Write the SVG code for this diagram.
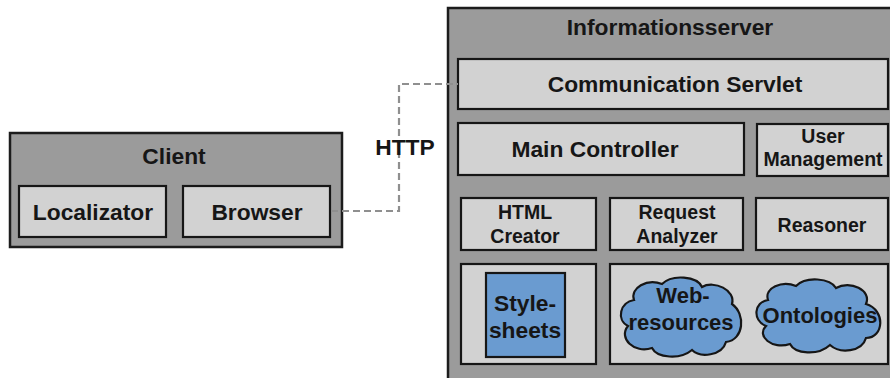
<svg xmlns="http://www.w3.org/2000/svg" width="890" height="378" viewBox="0 0 890 378">
  <style>
    .outer { fill: #9b9b9b; stroke: #1c1c1c; stroke-width: 2.5; }
    .box { fill: #d2d2d2; stroke: #161616; stroke-width: 2.2; }
    .blue { fill: #6a9bd0; stroke: #161616; stroke-width: 2.2; }
    text { font-family: "Liberation Sans", Arial, sans-serif; font-weight: bold; fill: #161616; text-anchor: middle; }
    .big { font-size: 22.8px; }
    .small { font-size: 19.5px; }
    .cloud { font-size: 22px; }
    .link { fill: none; stroke: #8f8f8f; stroke-width: 2.2; stroke-dasharray: 7 4; }
  </style>
  <rect width="890" height="378" fill="#ffffff"/>

  <!-- client side -->
  <g id="client">
    <rect class="outer" x="10" y="133" width="332" height="114"/>
    <text class="big" x="174" y="164">Client</text>
  </g>
  <g id="localizator">
    <rect class="box" x="19" y="186" width="147" height="51"/>
    <text class="big" x="93" y="220">Localizator</text>
  </g>
  <g id="browser">
    <rect class="box" x="183" y="186" width="147" height="51"/>
    <text class="big" x="257" y="220">Browser</text>
  </g>

  <!-- server side -->
  <g id="informationsserver">
    <rect class="outer" x="448" y="8" width="460" height="380"/>
    <text class="big" x="670" y="35">Informationsserver</text>
  </g>
  <g id="communication-servlet">
    <rect class="box" x="458" y="59" width="430" height="50"/>
    <text class="big" x="675" y="92">Communication Servlet</text>
  </g>
  <g id="main-controller">
    <rect class="box" x="458" y="123" width="286" height="52"/>
    <text class="big" x="595" y="157">Main Controller</text>
  </g>
  <g id="user-management">
    <rect class="box" x="757" y="124" width="131" height="52"/>
    <text class="small" x="823" y="143">User</text>
    <text class="small" x="823" y="166">Management</text>
  </g>
  <g id="html-creator">
    <rect class="box" x="461" y="198" width="135" height="52"/>
    <text class="small" x="525" y="219">HTML</text>
    <text class="small" x="525" y="243">Creator</text>
  </g>
  <g id="request-analyzer">
    <rect class="box" x="610" y="198" width="133" height="52"/>
    <text class="small" x="677" y="219">Request</text>
    <text class="small" x="677" y="243">Analyzer</text>
  </g>
  <g id="reasoner">
    <rect class="box" x="756" y="198" width="132" height="52"/>
    <text class="small" x="822" y="232">Reasoner</text>
  </g>
  <g id="style-panel">
    <rect class="box" x="461" y="264" width="135" height="100"/>
  </g>
  <g id="stylesheets">
    <rect class="blue" x="486" y="273" width="79" height="84"/>
    <text class="big" x="525" y="311">Style-</text>
    <text class="big" x="525" y="338">sheets</text>
  </g>
  <g id="resource-panel">
    <rect class="box" x="610" y="264" width="278" height="100"/>
  </g>
  <g id="web-resources">
    <path class="blue" d="M 634 300 C 630 288, 647 278, 662 284 C 672 274, 697 276, 702 287 C 714 280, 736 290, 732 304 C 746 314, 744 340, 726 342 C 722 356, 700 358, 692 350 C 680 360, 657 358, 652 348 C 634 354, 618 338, 628 326 C 616 320, 620 302, 634 300 Z"/>
    <text class="cloud" x="683" y="303">Web-</text>
    <text class="cloud" x="681" y="330">resources</text>
  </g>
  <g id="ontologies">
    <path class="blue" d="M 768 300 C 764 288, 782 280, 796 286 C 806 276, 830 278, 836 288 C 850 280, 872 290, 866 304 C 886 310, 884 338, 866 338 C 862 352, 840 354, 830 345 C 818 356, 795 354, 790 344 C 772 350, 756 336, 766 326 C 752 320, 754 302, 768 300 Z"/>
    <text class="cloud" x="820" y="323">Ontologies</text>
  </g>

  <!-- connectors -->
  <g id="connectors">
    <path class="link" d="M 331 211 H 399 V 84 H 458"/>
    <text class="big" x="405" y="155">HTTP</text>
  </g>
</svg>
